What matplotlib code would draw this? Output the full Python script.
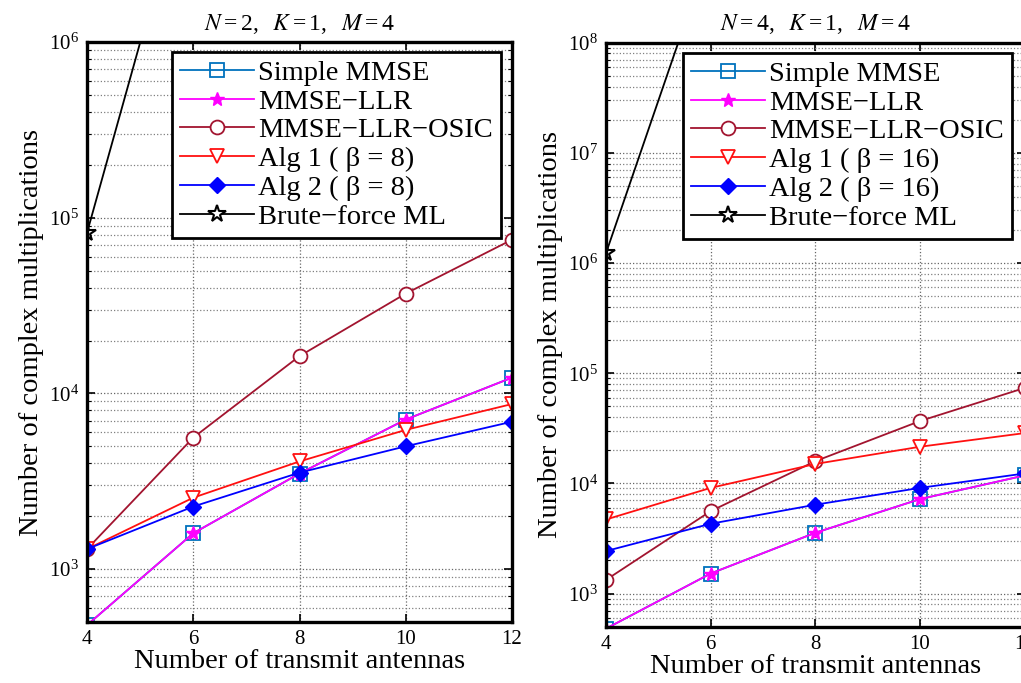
import matplotlib
matplotlib.use("Agg")
import matplotlib.pyplot as plt
from matplotlib.ticker import LogLocator, NullFormatter, NullLocator, FixedLocator

plt.rcParams['font.family'] = ['Liberation Serif', 'DejaVu Serif']
plt.rcParams['mathtext.fontset'] = 'stix'
plt.rcParams['mathtext.default'] = 'regular'

# ---------------- data ----------------
antennas = [4, 6, 8, 10, 12]
xticks = [4, 6, 8, 10, 12]

titles = [r"$\mathit{N}=2,\ \ \mathit{K}=1,\ \ \mathit{M}=4$",
          r"$\mathit{N}=4,\ \ \mathit{K}=1,\ \ \mathit{M}=4$"]
ylims = [(500, 1e6), (500, 1e8)]

# left panel (N = 2, beta = 8)
simple_mmse_L = [480, 1600, 3500, 7100, 12300]
mmse_llr_L = [480, 1600, 3500, 7100, 12300]
osic_L = [1300, 5600, 16300, 37000, 75000]
alg1_L = [1300, 2550, 4100, 6200, 8700]
alg2_L = [1300, 2270, 3540, 5000, 6900]
brute_L = [8.2e4, 1.2e7, 1.7e9, 2.4e11, 3.4e13]

# right panel (N = 4, beta = 16)
simple_mmse_R = [480, 1520, 3560, 7200, 11800]
mmse_llr_R = [480, 1520, 3560, 7200, 11800]
osic_R = [1330, 5600, 15900, 36800, 73500]
alg1_R = [4700, 9100, 15000, 21500, 28600]
alg2_R = [2430, 4300, 6400, 9100, 12300]
brute_R = [1.23e6, 7.2e8, 4.0e11, 2.3e14, 1.3e17]

labels_L = ["Simple MMSE", "MMSE\u2212LLR", "MMSE\u2212LLR\u2212OSIC",
            "Alg 1 ( \u03b2 = 8)", "Alg 2 ( \u03b2 = 8)", "Brute\u2212force ML"]
labels_R = ["Simple MMSE", "MMSE\u2212LLR", "MMSE\u2212LLR\u2212OSIC",
            "Alg 1 ( \u03b2 = 16)", "Alg 2 ( \u03b2 = 16)", "Brute\u2212force ML"]

series_L = [simple_mmse_L, mmse_llr_L, osic_L, alg1_L, alg2_L, brute_L]
series_R = [simple_mmse_R, mmse_llr_R, osic_R, alg1_R, alg2_R, brute_R]

styles = [
    dict(color='#0072BD', marker='s', mfc='none', ms=10, mew=1.3),
    dict(color='#FF00FF', marker='*', mfc='#FF00FF', ms=10, mew=1.0),
    dict(color='#A2142F', marker='o', mfc='white', ms=10, mew=1.3),
    dict(color='#FF1010', marker='v', mfc='white', ms=10, mew=1.3),
    dict(color='#0000FF', marker='D', mfc='#0000FF', ms=8, mew=1.0),
    dict(color='black', marker='*', mfc='white', ms=13, mew=1.5),
]

fig = plt.figure(figsize=(10.21, 6.83), dpi=100)
W, H = 1021.0, 683.0
axpos = [
    [87 / W, 1 - 622 / H, 425 / W, 580 / H],
    [606 / W, 1 - 626.7 / H, 418.7 / W, 584 / H],
]
legend_anchor = [(501 / W, 1 - 52 / H), (1012 / W, 1 - 53 / H)]

for i, (series, labels) in enumerate([(series_L, labels_L), (series_R, labels_R)]):
    ax = fig.add_axes(axpos[i])
    for vals, lab, st in zip(series, labels, styles):
        ax.plot(antennas, vals, lw=1.3, label=lab, **st)
    ax.set_yscale('log')
    ax.set_xlim(4, 12)
    ax.set_ylim(*ylims[i])
    ax.xaxis.set_major_locator(FixedLocator(xticks))
    ax.xaxis.set_minor_locator(NullLocator())
    ax.yaxis.set_major_locator(LogLocator(base=10, numticks=20))
    ax.yaxis.set_minor_locator(LogLocator(base=10, subs=range(2, 10), numticks=20))
    ax.yaxis.set_minor_formatter(NullFormatter())
    ax.grid(True, which='major', ls=':', lw=0.9, color='0.4')
    ax.grid(True, which='minor', axis='y', ls=':', lw=0.9, color='0.5')
    for s in ax.spines.values():
        s.set_linewidth(2.4)
    ax.tick_params(which='both', direction='in', top=True, right=True)
    ax.tick_params(which='major', length=6, width=1.2, labelsize=15, pad=6)
    ax.tick_params(which='minor', length=3, width=0.8)
    ax.set_title(titles[i], fontsize=17, pad=9)
    ax.set_xlabel("Number of transmit antennas", fontsize=20.5, labelpad=0)
    ax.set_ylabel("Number of complex multiplications", fontsize=20.5, labelpad=3)
    leg = ax.legend(loc='upper right', bbox_to_anchor=legend_anchor[i],
                    bbox_transform=fig.transFigure, borderaxespad=0,
                    fontsize=20.5, fancybox=False, framealpha=1,
                    edgecolor='black', labelspacing=0.1, handlelength=2.6,
                    handletextpad=0.15, borderpad=0.28)
    leg.get_frame().set_linewidth(2.0)

fig.savefig("out.png", dpi=100)
